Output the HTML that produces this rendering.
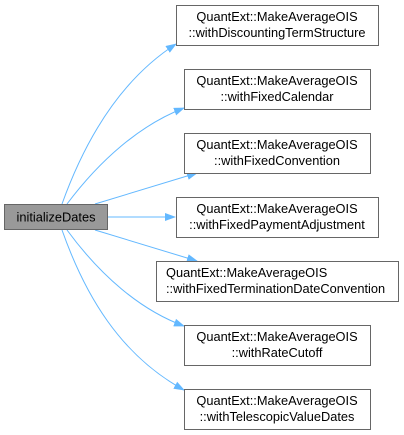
<!DOCTYPE html>
<html><head><meta charset="utf-8"><style>
body{margin:0;background:#fff;width:404px;height:435px;overflow:hidden}
svg{display:block}
text{font-family:"Liberation Sans",Arial,sans-serif;font-size:12.8px;fill:#000}
</style></head><body>
<svg width="404" height="435" viewBox="0 0 404 435">
<defs><marker id="a" markerWidth="11" markerHeight="8" refX="10" refY="4" orient="auto" markerUnits="userSpaceOnUse"><path d="M0,0 L11,4 L0,8 Z" fill="#63b8ff"/></marker></defs>
<g fill="none" stroke="#63b8ff" stroke-width="1" marker-end="url(#a)">
<path d="M62,204 C85,140 120,80 176,44"/>
<path d="M67,204 C100,160 140,125 184,108"/>
<path d="M95,204 L197,173"/>
<path d="M108,217 L175,217"/>
<path d="M95,230 L197,261"/>
<path d="M67,230 C100,275 140,310 184,326"/>
<path d="M62,230 C85,295 120,355 184,390"/>
</g>
<rect x="4.5" y="204.5" width="103" height="25" fill="#999" stroke="#666"/>
<text x="56" y="221.5" text-anchor="middle">initializeDates</text>
<g fill="#fff" stroke="#666">
<rect x="176.5" y="5.5" width="202" height="40"/>
<rect x="184.5" y="69.5" width="186" height="40"/>
<rect x="184.5" y="133.5" width="186" height="40"/>
<rect x="176.5" y="197.5" width="202" height="40"/>
<rect x="156.5" y="261.5" width="242" height="40"/>
<rect x="184.5" y="325.5" width="186" height="40"/>
<rect x="184.5" y="389.5" width="186" height="40"/>
</g>
<g text-anchor="middle">
<text x="277" y="21">QuantExt::MakeAverageOIS</text><text x="277" y="37">::withDiscountingTermStructure</text>
<text x="277" y="85">QuantExt::MakeAverageOIS</text><text x="277" y="101">::withFixedCalendar</text>
<text x="277" y="149">QuantExt::MakeAverageOIS</text><text x="277" y="165">::withFixedConvention</text>
<text x="277" y="213">QuantExt::MakeAverageOIS</text><text x="277" y="229">::withFixedPaymentAdjustment</text>
</g>
<text x="166" y="277">QuantExt::MakeAverageOIS</text><text x="166" y="293">::withFixedTerminationDateConvention</text>
<g text-anchor="middle">
<text x="277" y="341">QuantExt::MakeAverageOIS</text><text x="277" y="357">::withRateCutoff</text>
<text x="277" y="405">QuantExt::MakeAverageOIS</text><text x="277" y="421">::withTelescopicValueDates</text>
</g>
</svg>
</body></html>
